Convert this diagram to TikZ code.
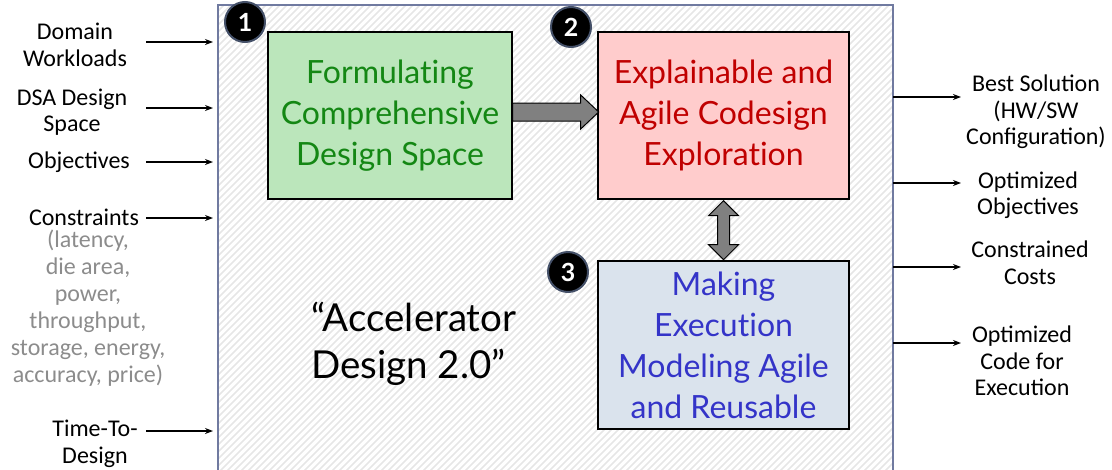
\documentclass[tikz,border=0pt]{standalone}
\usepackage{fontspec}
\setmainfont{Carlito}
\newfontfamily\boxfont[Ligatures={NoCommon}]{Lato}
\usetikzlibrary{arrows.meta,calc}

\definecolor{framecol}{RGB}{112,122,160}
\definecolor{hatchcol}{RGB}{230,230,230}
\definecolor{greenfill}{RGB}{187,230,187}
\definecolor{greentext}{RGB}{20,135,20}
\definecolor{redfill}{RGB}{255,204,204}
\definecolor{redtext}{RGB}{192,0,0}
\definecolor{bluefill}{RGB}{218,227,237}
\definecolor{bluetext}{RGB}{52,52,200}
\definecolor{notegray}{RGB}{140,140,140}
\definecolor{badgering}{RGB}{68,80,104}
\definecolor{blockgray}{RGB}{128,128,128}

\tikzset{
  hatch/.style={draw=hatchcol, line width=1.5pt},
  frame/.style={draw=framecol, line width=1.5pt},
  stage/.style={draw=black, line width=1.4pt, align=center, inner sep=0pt,
    font=\boxfont\fontsize{32}{41}\selectfont},
  badge/.style={circle, fill=black, draw=badgering, line width=2pt,
    minimum size=40pt, inner sep=0pt, text=white,
    font=\boxfont\bfseries\fontsize{25}{25}\selectfont},
  side/.style={align=center, inner sep=0pt, font=\fontsize{24}{26.5}\selectfont},
  io/.style={-{Stealth[length=8pt,width=6pt]}, line width=1.5pt},
  block/.style={fill=blockgray, draw=black, line width=1pt, line join=miter},
}

\begin{document}
\begin{tikzpicture}[x=1pt,y=-1pt]
\useasboundingbox (0,0) rectangle (1112,469);

% hatched framework area
\begin{scope}
  \clip (218,5) rectangle (893,480);
  \foreach \s in {-265,-258,...,900} \draw[hatch] (\s,480) -- ++(480,-480);
\end{scope}
\draw[frame] (218,5) rectangle (893,480);

% the three stages
\node[stage, fill=greenfill, text=greentext, minimum width=244pt, minimum height=167pt]
  (green) at (390,115.5) {Formulating\\Comprehensive\\Design Space};
\node[stage, fill=redfill, text=redtext, minimum width=251pt, minimum height=167pt]
  (red) at (723.5,115.5) {Explainable and\\Agile Codesign\\Exploration};
\node[stage, fill=bluefill, text=bluetext, minimum width=251pt, minimum height=168pt]
  (blue) at (723.5,345) {Making\\Execution\\Modeling Agile\\and Reusable};

% numbered badges
\node[badge] (b1) at (245,22) {1};
\node[badge] (b2) at (571,27) {2};
\node[badge] (b3) at (568,272) {3};

% block arrow from stage 1 to stage 2
\begin{scope}[shift={($(green.east)+(0,-3.5)$)}]
  \draw[block] (0,-9) -- (68,-9) -- (68,-17) -- (86,0) -- (68,17) -- (68,9) -- (0,9) -- cycle;
\end{scope}

% double block arrow between stage 2 and stage 3
\begin{scope}[shift={(red.south)}]
  \draw[block] (-6,16) -- (-15,16) -- (0,1) -- (15,16) -- (6,16) -- (6,45)
    -- (15,45) -- (0,60) -- (-15,45) -- (-6,45) -- cycle;
\end{scope}

% title
\node[anchor=west, align=left, inner sep=0pt, font=\boxfont\fontsize{38.5}{47}\selectfont]
  (title) at (311,344) {“Accelerator\\Design 2.0”};

% inputs
\node[side] (in1) at (75,45) {Domain\\Workloads};
\node[side] (in2) at (72,112) {DSA Design\\Space};
\node[side] (in3) at (79,162) {Objectives};
\node[side] (in4) at (84,217) {Constraints};
\node[side, text=notegray, font=\fontsize{24}{27}\selectfont] (in4n) at (88,308.5)
  {(latency,\\die area,\\power,\\throughput,\\storage, energy,\\accuracy, price)};
\node[side] (in5) at (95,444) {Time-To-\\Design};

\coordinate (a1s) at (146,42);  \coordinate (a1e) at (213,42);
\coordinate (a2s) at (146,108); \coordinate (a2e) at (213,108);
\coordinate (a3s) at (146,162); \coordinate (a3e) at (213,162);
\coordinate (a4s) at (146,218); \coordinate (a4e) at (213,218);
\coordinate (a5s) at (146,431); \coordinate (a5e) at (213,431);
\foreach \k in {1,...,5} \draw[io] (a\k s) -- (a\k e);

% outputs
\node[side] (out1) at (1036,112) {Best Solution\\(HW/SW\\Configuration)};
\node[side] (out2) at (1028,195) {Optimized\\Objectives};
\node[side] (out3) at (1030,263) {Constrained\\Costs};
\node[side] (out4) at (1022,361) {Optimized\\Code for\\Execution};

\coordinate (o1s) at (893,97);  \coordinate (o1e) at (961,97);
\coordinate (o2s) at (893,183); \coordinate (o2e) at (961,183);
\coordinate (o3s) at (893,267); \coordinate (o3e) at (961,267);
\coordinate (o4s) at (893,343); \coordinate (o4e) at (961,343);
\foreach \k in {1,...,4} \draw[io] (o\k s) -- (o\k e);
\end{tikzpicture}
\end{document}
